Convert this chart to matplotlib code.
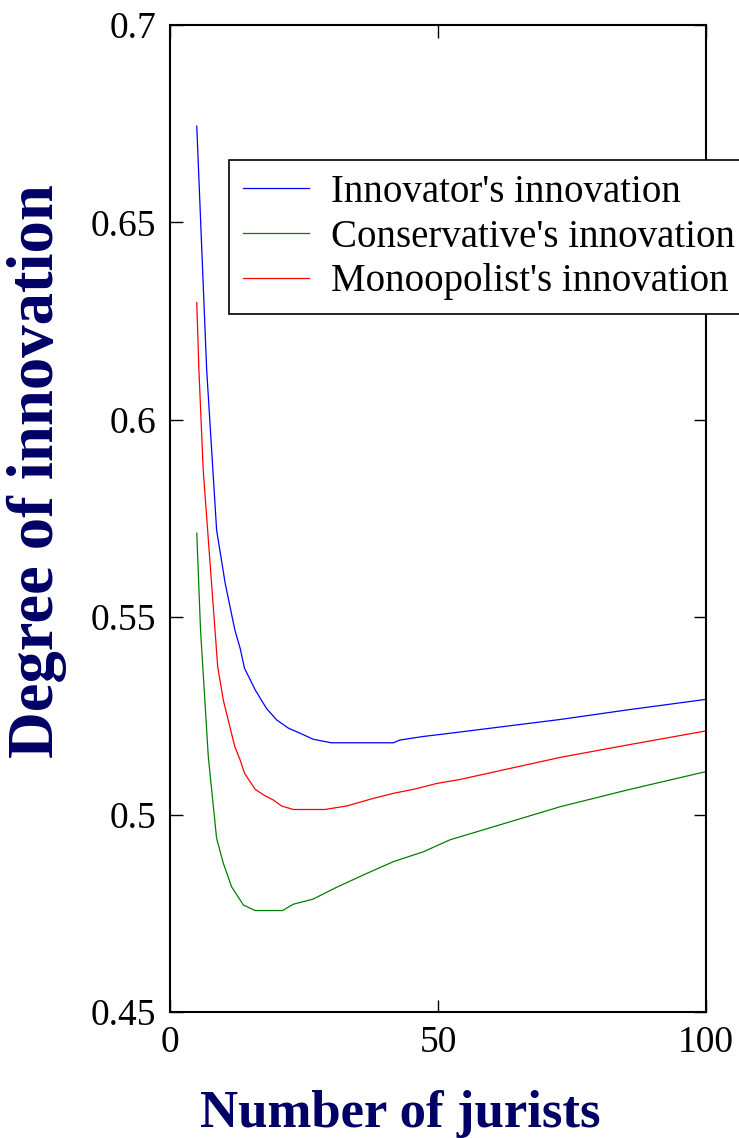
import matplotlib
matplotlib.use('Agg')
from matplotlib import pyplot as plt

plt.rcParams['font.family'] = ['Liberation Serif', 'DejaVu Serif']

# values
innovator_x = [5, 6.85, 8.7, 10.3, 12.1, 13.1, 13.9, 15.9, 18.0, 19.9, 22.1, 24.3, 26.7,
               30.1, 41.7, 42.9, 47.3, 52.2, 72.8, 85.2, 100]
innovator_y = [0.6744, 0.6126, 0.5721, 0.5586, 0.5468, 0.5421, 0.5371, 0.5316, 0.5269,
               0.5240, 0.5219, 0.5206, 0.5191, 0.5182, 0.5182, 0.5189, 0.5198, 0.5206,
               0.5241, 0.5265, 0.5292]

conservative_x = [5, 5.7, 7.15, 8.7, 9.95, 11.5, 13.7, 15.9, 21.0, 23.0, 26.7, 31.1, 36.7,
                  41.7, 47.3, 52.2, 72.8, 85.2, 100]
conservative_y = [0.5713, 0.5468, 0.5147, 0.4940, 0.4877, 0.4817, 0.4771, 0.4757, 0.4757,
                  0.4773, 0.4786, 0.4816, 0.4851, 0.4881, 0.4906, 0.4936, 0.5020, 0.5062,
                  0.5109]

monopolist_x = [5, 5.4, 6.2, 8.4, 8.9, 9.95, 12.1, 13.1, 13.9, 15.9, 17.7, 19.3, 20.8, 23.0,
                28.9, 33, 37.9, 41.7, 45.4, 49.8, 54.1, 72.8, 85.2, 100]
monopolist_y = [0.6297, 0.6126, 0.5873, 0.5468, 0.5375, 0.5290, 0.5172, 0.5138, 0.5105,
                0.5064, 0.5048, 0.5037, 0.5022, 0.5013, 0.5013, 0.5022, 0.5041, 0.5054,
                0.5064, 0.5079, 0.5089, 0.5145, 0.5176, 0.5212]

series_labels = ["Innovator's innovation", "Conservative's innovation",
                 "Monoopolist's innovation"]

x_ticks = [0, 50, 100]
x_ticklabels = ['0', '50', '100']
y_ticks = [0.45, 0.5, 0.55, 0.6, 0.65, 0.7]
y_ticklabels = ['0.45', '0.5', '0.55', '0.6', '0.65', '0.7']

fig = plt.figure(figsize=(7.39, 11.38), dpi=100)
ax = fig.add_axes([0.230, 0.1107, 0.7253, 0.8673])

ax.plot(innovator_x, innovator_y, color='#0000ff', lw=0.9, label=series_labels[0])
ax.plot(conservative_x, conservative_y, color='#008000', lw=0.9, label=series_labels[1])
ax.plot(monopolist_x, monopolist_y, color='#ff0000', lw=0.9, label=series_labels[2])

ax.set_xlim(0, 100)
ax.set_ylim(0.45, 0.7)
ax.set_xticks(x_ticks)
ax.set_xticklabels(x_ticklabels)
ax.set_yticks(y_ticks)
ax.set_yticklabels(y_ticklabels)
ax.tick_params(direction='in', top=True, right=True, length=9, width=1,
               labelsize=27, pad=10)
for sp in ax.spines.values():
    sp.set_linewidth(1.5)

navy = '#000066'
ax.set_xlabel('Number of jurists', fontsize=38, fontweight='bold', color=navy, va='center')
ax.xaxis.set_label_coords(0.429, -0.103)
ax.set_ylabel('Degree of innovation', fontsize=46.5, fontweight='bold', color=navy, va='center')
ax.yaxis.set_label_coords(-0.248, 0.548)

leg = ax.legend(loc='upper left', bbox_to_anchor=(0.110, 0.863), fontsize=28,
                frameon=True, fancybox=False, framealpha=1, edgecolor='black',
                borderaxespad=0, borderpad=0.35, handlelength=1.72, handletextpad=0.56,
                labelspacing=0.2)
leg.get_frame().set_linewidth(1.2)

fig.savefig('out.png', dpi=100)
